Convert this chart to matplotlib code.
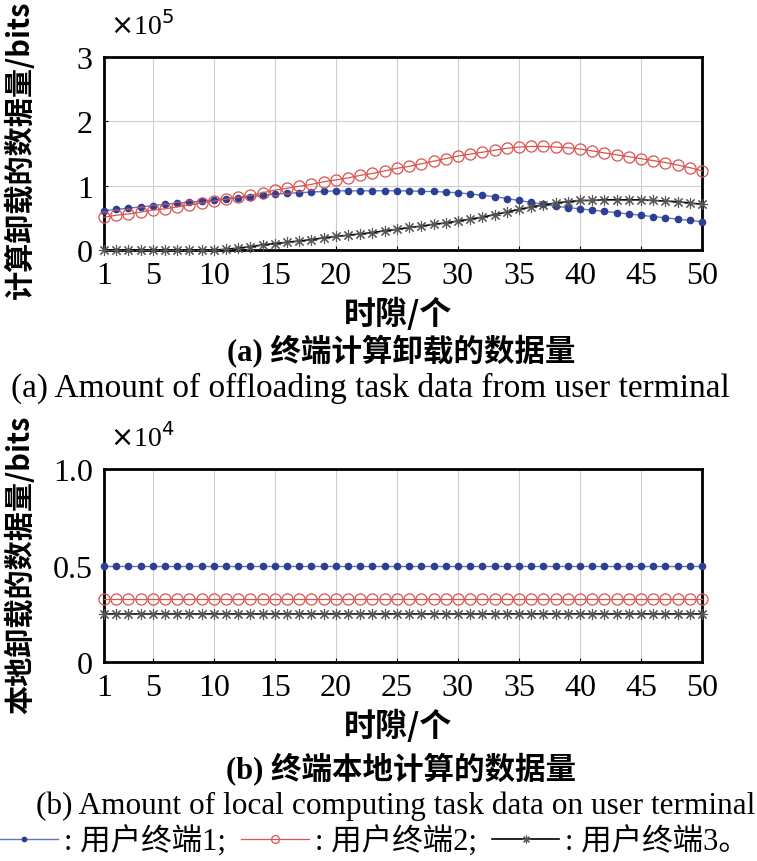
import numpy as np
import matplotlib.pyplot as plt

# time slots
slots = np.arange(1, 51)
xticks = [1, 5, 10, 15, 20, 25, 30, 35, 40, 45, 50]

# (a) offloaded data, units of 1e5 bits
off_u1 = [0.61, 0.63, 0.65, 0.67, 0.69, 0.71, 0.73, 0.74, 0.76, 0.78,
          0.80, 0.81, 0.83, 0.85, 0.87, 0.88, 0.89, 0.90, 0.91, 0.92,
          0.92, 0.92, 0.92, 0.92, 0.92, 0.92, 0.91, 0.91, 0.90, 0.89,
          0.87, 0.85, 0.83, 0.80, 0.77, 0.74, 0.71, 0.68, 0.66, 0.64,
          0.62, 0.60, 0.58, 0.56, 0.54, 0.52, 0.50, 0.48, 0.46, 0.44]
off_u2 = [0.51, 0.54, 0.56, 0.59, 0.62, 0.64, 0.67, 0.70, 0.73, 0.76,
          0.79, 0.82, 0.85, 0.89, 0.93, 0.96, 0.99, 1.02, 1.06, 1.09,
          1.12, 1.16, 1.19, 1.23, 1.27, 1.30, 1.34, 1.38, 1.42, 1.46,
          1.49, 1.52, 1.55, 1.58, 1.60, 1.61, 1.61, 1.60, 1.59, 1.57,
          1.54, 1.51, 1.48, 1.45, 1.42, 1.39, 1.36, 1.32, 1.28, 1.23]
off_u3 = [0.00, 0.00, 0.00, 0.00, 0.00, 0.00, 0.00, 0.00, 0.00, 0.00,
          0.01, 0.03, 0.05, 0.08, 0.10, 0.12, 0.14, 0.16, 0.19, 0.21,
          0.23, 0.25, 0.27, 0.30, 0.32, 0.35, 0.37, 0.40, 0.42, 0.45,
          0.48, 0.51, 0.55, 0.59, 0.63, 0.67, 0.70, 0.73, 0.75, 0.77,
          0.77, 0.78, 0.78, 0.78, 0.78, 0.77, 0.76, 0.75, 0.73, 0.71]

# (b) local data, units of 1e4 bits (constant per terminal)
loc_u1 = [0.495] * 50
loc_u2 = [0.328] * 50
loc_u3 = [0.247] * 50

serif = ['Liberation Serif', 'Noto Sans CJK SC']
cjk = ['Noto Sans CJK SC', 'DejaVu Sans']

blue = '#2b3f94'
red = '#d9534f'
star = (8, 2, 0)

fig = plt.figure(figsize=(7.57, 8.62), dpi=100)
W, H = 757, 862

def make_ax(top, bottom):
    ax = fig.add_axes([104 / W, 1 - bottom / H, (702 - 104) / W, (bottom - top) / H])
    ax.set_xlim(1, 50)
    ax.set_xticks(xticks)
    ax.grid(True, color='#cfcfcf', linewidth=0.8)
    ax.tick_params(direction='in', length=3, labelsize=23, pad=8)
    for s in ax.spines.values():
        s.set_linewidth(2)
    return ax

def draw(ax, y1, y2, y3):
    h1, = ax.plot(slots, y1, '-', color='#6477bd', lw=1, marker='o', ms=4.5,
                  mfc=blue, mec=blue, clip_on=False, zorder=3)
    h2, = ax.plot(slots, y2, '-', color=red, lw=0.9, marker='o', ms=8,
                  mfc='none', mec=red, mew=0.9, clip_on=False, zorder=3)
    h3, = ax.plot(slots, y3, '-', color='black', lw=1.2, marker=star, ms=8,
                  mec='#555555', mew=0.8, clip_on=False, zorder=3)
    return h1, h2, h3

ax1 = make_ax(58, 251)
handles = draw(ax1, off_u1, off_u2, off_u3)
ax1.set_ylim(0, 3)
ax1.set_yticks([0, 1, 2, 3])
ax1.set_yticklabels(['0', '1', '2', '3'])
ax1.text(0.01, 1.09, r'$\times$10$^5$', transform=ax1.transAxes, fontsize=20,
         family='Liberation Serif', va='bottom', ha='left')

ax2 = make_ax(470, 663)
draw(ax2, loc_u1, loc_u2, loc_u3)
ax2.set_ylim(0, 1.0)
ax2.set_yticks([0, 0.5, 1.0])
ax2.set_yticklabels(['0', '0.5', '1.0'])
ax2.text(0.01, 1.09, r'$\times$10$^4$', transform=ax2.transAxes, fontsize=20,
         family='Liberation Serif', va='bottom', ha='left')

for ax in (ax1, ax2):
    for lab in ax.get_xticklabels() + ax.get_yticklabels():
        lab.set_family('Liberation Serif')

# y labels
fig.text(20 / W, 1 - 150 / H, '计算卸载的数据量/bits', rotation=90, fontsize=21,
         family=cjk, weight='bold', ha='center', va='center')
fig.text(20 / W, 1 - 565 / H, '本地卸载的数据量/bits', rotation=90, fontsize=21,
         family=cjk, weight='bold', ha='center', va='center')

# x labels and captions
def ftext(x, y, s, size, fam, weight='normal'):
    fig.text(x / W, 1 - y / H, s, fontsize=size, family=fam, weight=weight,
             ha='center', va='center')

ftext(398, 314, '时隙/个', 23, cjk, 'bold')
ftext(401, 352, '(a) 终端计算卸载的数据量', 22, serif, 'bold')
ftext(370, 388, '(a) Amount of offloading task data from user terminal', 24, serif)
ftext(398, 726, '时隙/个', 23, cjk, 'bold')
ftext(401, 770, '(b) 终端本地计算的数据量', 22, serif, 'bold')
ftext(396, 806, '(b) Amount of local computing task data on user terminal', 22.5, serif)

fig.legend(handles, [': 用户终端1;', ': 用户终端2;', ': 用户终端3。'],
           loc='center', bbox_to_anchor=(370 / W, 1 - 842 / H), ncol=3,
           frameon=False, prop={'family': serif, 'size': 22},
           handlelength=2.2, handletextpad=0.2, columnspacing=0.5,
           markerscale=0.7)

fig.savefig('out.png', dpi=100)
